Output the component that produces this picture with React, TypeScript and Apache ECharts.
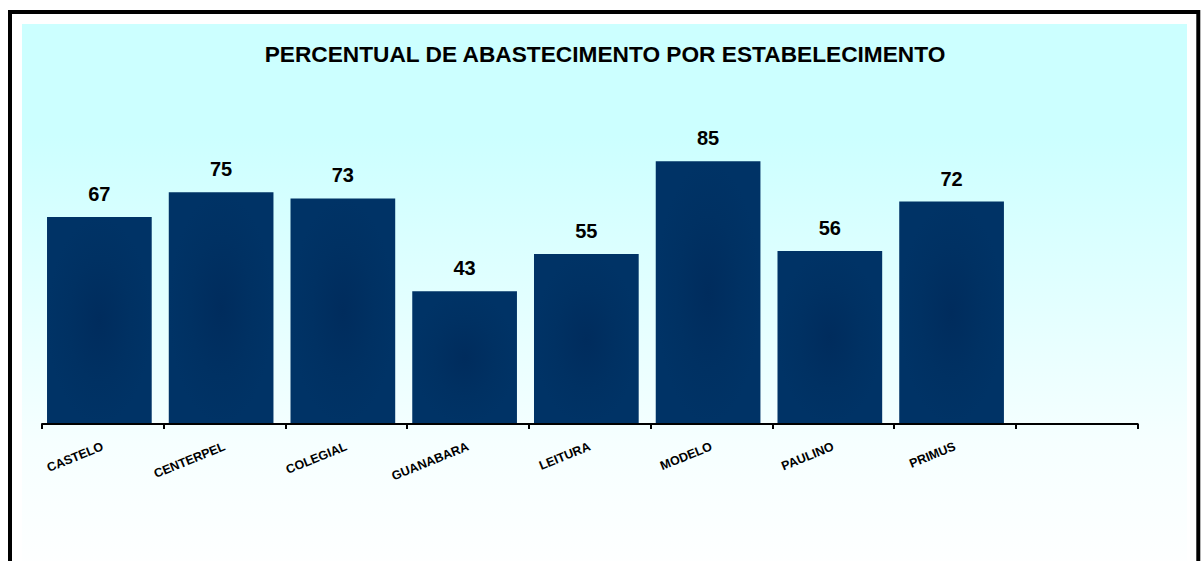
import React, { useEffect, useRef } from "react";
import * as echarts from "echarts";

const categories = ["CASTELO", "CENTERPEL", "COLEGIAL", "GUANABARA", "LEITURA", "MODELO", "PAULINO", "PRIMUS", ""];
const values: (number | null)[] = [67, 75, 73, 43, 55, 85, 56, 72, null];
const titleText = "PERCENTUAL DE ABASTECIMENTO POR ESTABELECIMENTO";

const FONT = "'Liberation Sans', Arial, sans-serif";

export default function App() {
  const ref = useRef<HTMLDivElement>(null);
  useEffect(() => {
    if (!ref.current) return;
    const chart = echarts.init(ref.current, null, { renderer: "svg" });
    chart.setOption({
      animation: false,
      backgroundColor: "#ffffff",
      graphic: [
        {
          type: "rect",
          z: -20,
          silent: true,
          shape: { x: 22, y: 24, width: 1165, height: 560 },
          style: {
            fill: new echarts.graphic.LinearGradient(0, 0, 0, 1, [
              { offset: 0, color: "#CCFFFF" },
              { offset: 0.2, color: "#CCFFFF" },
              { offset: 0.75, color: "#F6FFFF" },
              { offset: 1, color: "#FFFFFF" },
            ]),
          },
        },
        {
          type: "rect",
          z: -19,
          silent: true,
          shape: { x: 10, y: 12, width: 1188.3, height: 600 },
          style: { fill: "none", stroke: "#000000", lineWidth: 4 },
        },
        {
          type: "text",
          z: 10,
          x: 605,
          y: 54,
          style: {
            text: titleText,
            fill: "#000000",
            font: `bold 22.7px ${FONT}`,
            align: "center",
            verticalAlign: "middle",
          },
        },
      ],
      grid: [
        { left: 42, right: 63.3, top: 115, bottom: 137, containLabel: false },
        { left: 38.5, right: 66.8, top: 115, bottom: 137, containLabel: false },
      ],
      xAxis: [
        {
          type: "category",
          gridIndex: 0,
          data: categories,
          boundaryGap: true,
          axisLine: { show: true, lineStyle: { color: "#000000", width: 2 } },
          axisTick: { show: true, length: 5, lineStyle: { color: "#000000", width: 2 } },
          axisLabel: {
            interval: 0,
            rotate: 22,
            margin: 22,
            color: "#000000",
            fontWeight: "bold",
            fontSize: 12.5,
            fontFamily: FONT,
          },
          z: 5,
        },
        {
          type: "category",
          gridIndex: 1,
          data: categories,
          boundaryGap: true,
          show: false,
        },
      ],
      yAxis: [
        { type: "value", gridIndex: 0, min: 0, max: 100, show: false, splitLine: { show: false } },
        { type: "value", gridIndex: 1, min: 0, max: 100, show: false, splitLine: { show: false } },
      ],
      series: [
        {
          type: "bar",
          xAxisIndex: 1,
          yAxisIndex: 1,
          data: values,
          barWidth: "86%",
          itemStyle: {
            color: new echarts.graphic.RadialGradient(0.5, 0.5, 0.5, [
              { offset: 0, color: "#002c5d" },
              { offset: 0.6, color: "#003163" },
              { offset: 1, color: "#003366" },
            ]),
          },
          label: {
            show: true,
            position: "top",
            distance: 13,
            color: "#000000",
            fontWeight: "bold",
            fontSize: 20,
            fontFamily: FONT,
          },
        },
      ],
    });
    return () => chart.dispose();
  }, []);
  return (
    <div
      ref={ref}
      style={{ position: "absolute", left: 0, top: 0, width: 1201, height: 561 }}
    />
  );
}
